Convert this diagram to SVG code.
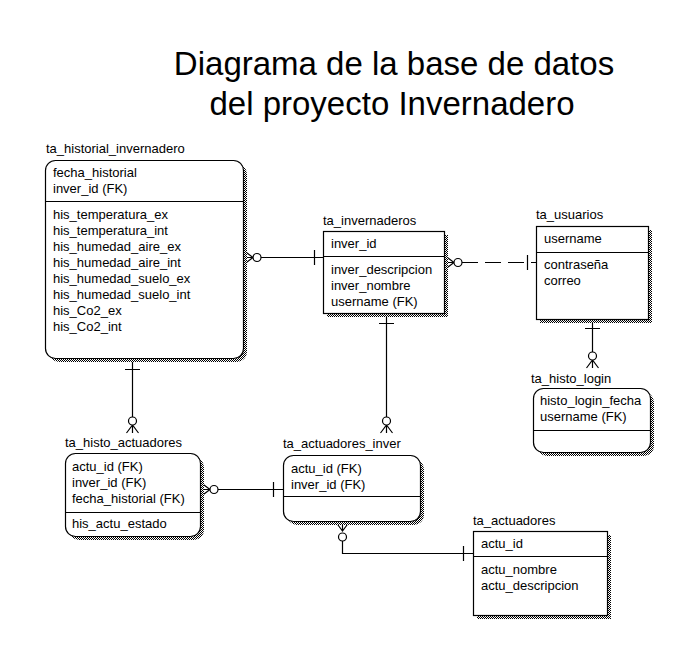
<svg xmlns="http://www.w3.org/2000/svg" width="700" height="650" viewBox="0 0 700 650">
<defs>
<pattern id="chk" width="2" height="2" patternUnits="userSpaceOnUse">
<rect width="2" height="2" fill="#fff"/>
<rect x="0" y="0" width="1" height="1" fill="#000"/>
<rect x="1" y="1" width="1" height="1" fill="#000"/>
</pattern>
</defs>
<style>
text{font-family:"Liberation Sans",Arial,sans-serif;font-size:13px;fill:#000}
.title{font-size:33px;text-anchor:middle}
.sh{fill:url(#chk);stroke:none}
.bx{fill:#fff;stroke:#000;stroke-width:1.2}
.dv{stroke:#000;stroke-width:1.2}
.ln{fill:none;stroke:#000;stroke-width:1.2}
.dash{stroke-dasharray:16 7}
.cf{fill:#fff;stroke:#000;stroke-width:1.2}
</style>
<rect width="700" height="650" fill="#fff"/>
<g id="title">
<text class="title" x="394" y="75">Diagrama de la base de datos</text>
<text class="title" x="392" y="115">del proyecto Invernadero</text>
</g>

<g id="connectors">
<!-- historial - invernaderos -->
<path class="ln" d="M261,257.5 H323 M314.5,250 V265 M245,251.5 L253,257.5 L245,263.5 M245,257.5 H253"/>
<circle class="cf" cx="257" cy="257.5" r="4"/>
<!-- invernaderos - usuarios (dashed) -->
<path class="ln dash" d="M462,262.5 H536"/>
<path class="ln" d="M527.5,255 V270 M446,256.5 L454,262.5 L446,268.5 M446,262.5 H454"/>
<circle class="cf" cx="458" cy="262.5" r="4"/>
<!-- usuarios - histo_login -->
<path class="ln" d="M592.5,319 V352 M585,328.5 H600 M586.5,368 L592.5,360 L598.5,368 M592.5,360 V368"/>
<circle class="cf" cx="592.5" cy="356" r="4"/>
<!-- historial - histo_actuadores -->
<path class="ln" d="M132.5,358 V417 M125,369.5 H140 M126.5,433 L132.5,425 L138.5,433 M132.5,425 V433"/>
<circle class="cf" cx="132.5" cy="421" r="4"/>
<!-- invernaderos - actuadores_inver -->
<path class="ln" d="M386.5,313 V417 M379,323.5 H394 M380.5,433 L386.5,425 L392.5,433 M386.5,425 V433"/>
<circle class="cf" cx="386.5" cy="421" r="4"/>
<!-- histo_actuadores - actuadores_inver -->
<path class="ln" d="M218,489.5 H283 M273.5,482 V497 M202,483.5 L210,489.5 L202,495.5 M202,489.5 H210"/>
<circle class="cf" cx="214" cy="489.5" r="4"/>
<!-- actuadores_inver - actuadores -->
<path class="ln" d="M342.5,541 V553.5 H473 M463.5,546 V561 M336.5,523 L342.5,531 L348.5,523 M342.5,523 V531"/>
<circle class="cf" cx="342.5" cy="537" r="4"/>
</g>

<g id="ta_historial_invernadero">
<text x="46" y="153">ta_historial_invernadero</text>
<rect class="sh" x="49" y="164" width="198" height="198" rx="10"/>
<rect class="bx" x="45.5" y="160.5" width="198" height="198" rx="10"/>
<line class="dv" x1="45.5" y1="201.5" x2="243.5" y2="201.5"/>
<text x="53" y="177">fecha_historial</text>
<text x="53" y="193">inver_id (FK)</text>
<text x="53" y="219">his_temperatura_ex</text>
<text x="53" y="235">his_temperatura_int</text>
<text x="53" y="251">his_humedad_aire_ex</text>
<text x="53" y="267">his_humedad_aire_int</text>
<text x="53" y="283">his_humedad_suelo_ex</text>
<text x="53" y="299">his_humedad_suelo_int</text>
<text x="53" y="315">his_Co2_ex</text>
<text x="53" y="331">his_Co2_int</text>
</g>

<g id="ta_invernaderos">
<text x="323" y="225">ta_invernaderos</text>
<rect class="sh" x="327" y="235" width="121" height="82"/>
<rect class="bx" x="323.5" y="231.5" width="121" height="82"/>
<line class="dv" x1="323.5" y1="256.5" x2="444.5" y2="256.5"/>
<text x="331" y="248">inver_id</text>
<text x="331" y="274">inver_descripcion</text>
<text x="331" y="290">inver_nombre</text>
<text x="331" y="306">username (FK)</text>
</g>

<g id="ta_usuarios">
<text x="536" y="219">ta_usuarios</text>
<rect class="sh" x="540" y="230" width="112" height="93"/>
<rect class="bx" x="536.5" y="226.5" width="112" height="93"/>
<line class="dv" x1="536.5" y1="252.5" x2="648.5" y2="252.5"/>
<text x="544" y="243">username</text>
<text x="544" y="269">contraseña</text>
<text x="544" y="285">correo</text>
</g>

<g id="ta_histo_login">
<text x="531" y="383">ta_histo_login</text>
<rect class="sh" x="537" y="392" width="117" height="64" rx="10"/>
<rect class="bx" x="533.5" y="388.5" width="117" height="64" rx="10"/>
<line class="dv" x1="533.5" y1="430.5" x2="650.5" y2="430.5"/>
<text x="540" y="405">histo_login_fecha</text>
<text x="540" y="421">username (FK)</text>
</g>

<g id="ta_histo_actuadores">
<text x="65" y="447">ta_histo_actuadores</text>
<rect class="sh" x="69" y="457" width="135" height="83" rx="10"/>
<rect class="bx" x="65.5" y="453.5" width="135" height="83" rx="10"/>
<line class="dv" x1="65.5" y1="512.5" x2="200.5" y2="512.5"/>
<text x="72" y="471">actu_id (FK)</text>
<text x="72" y="487">inver_id (FK)</text>
<text x="72" y="503">fecha_historial (FK)</text>
<text x="72" y="528">his_actu_estado</text>
</g>

<g id="ta_actuadores_inver">
<text x="283" y="448">ta_actuadores_inver</text>
<rect class="sh" x="287" y="459" width="137" height="66" rx="10"/>
<rect class="bx" x="283.5" y="455.5" width="137" height="66" rx="10"/>
<line class="dv" x1="283.5" y1="496.5" x2="420.5" y2="496.5"/>
<text x="291" y="473">actu_id (FK)</text>
<text x="291" y="489">inver_id (FK)</text>
</g>

<g id="ta_actuadores">
<text x="473" y="525">ta_actuadores</text>
<rect class="sh" x="477" y="535" width="134" height="84"/>
<rect class="bx" x="473.5" y="531.5" width="134" height="84"/>
<line class="dv" x1="473.5" y1="556.5" x2="607.5" y2="556.5"/>
<text x="481" y="548">actu_id</text>
<text x="481" y="574">actu_nombre</text>
<text x="481" y="590">actu_descripcion</text>
</g>
</svg>
